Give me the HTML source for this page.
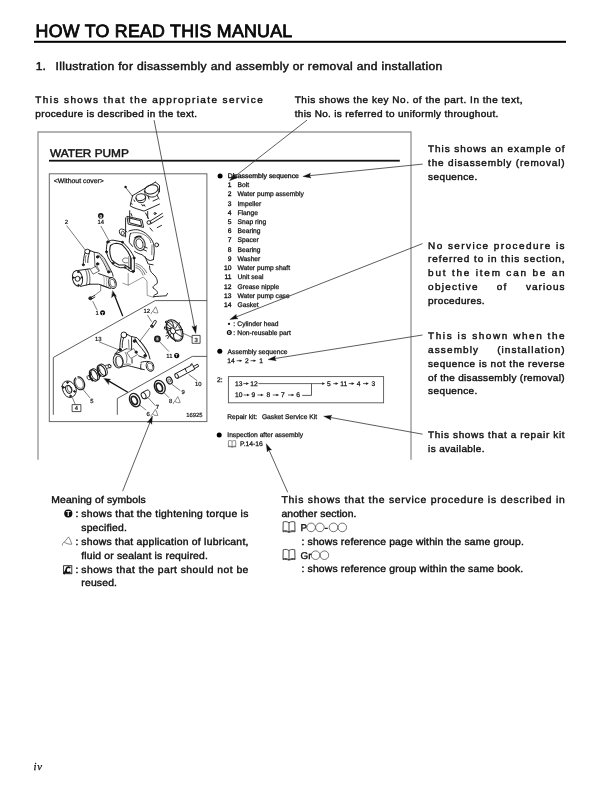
<!DOCTYPE html>
<html><head><meta charset="utf-8"><title>How to read this manual</title>
<style>
html,body{margin:0;padding:0;background:#fff;}
body{width:612px;height:792px;overflow:hidden;}
svg{display:block;}
text{font-family:"Liberation Sans",sans-serif;fill:#111;text-rendering:geometricPrecision;}
.b{stroke:#111;stroke-width:0.4px;}
.h{stroke:#111;stroke-width:0.32px;}
.s{stroke:#111;stroke-width:0.25px;}
.wp{stroke:#111;stroke-width:0.45px;}
.t{stroke:#000;stroke-width:0.8px;}
svg{will-change:transform;}
</style></head><body>
<svg width="612" height="792" viewBox="0 0 612 792">
<rect width="612" height="792" fill="#fff"/>
<g id="drawing" fill="none" stroke="#1c1c1c" stroke-width="0.95" stroke-linejoin="round" stroke-linecap="round">
<!-- section dividers -->
<path d="M206.8,300.6 L155.2,300.6 L53.3,357.5 L53.3,414.4" stroke="#333" stroke-width="0.8"/>
<path d="M206.8,356.4 L192.3,356.4 L117.3,398.5 L117.3,414.4" stroke="#333" stroke-width="0.8"/>

<!-- ===== engine head ===== -->
<circle cx="125.6" cy="187" r="1.2" fill="#111" stroke="none"/>
<path d="M126.2,188.2 L132.6,196.4" stroke-width="0.7"/>
<path d="M132.6,195.6 L155.4,182.1 M155.4,182.1 L159.5,185.5 L159.5,191.9 M132.6,195.6 L130.1,205.8 C132,207 134,208 136.2,208.6 L144,211.1 L159.5,204.1"/>
<ellipse cx="151.4" cy="189.4" rx="6.7" ry="4.5" transform="rotate(-12 151.4 189.4)"/>
<path d="M144.3,191 C144.6,195.5 149,197.4 153,197 C156.8,196.5 159.4,194 158.8,189"/>
<path d="M148,195.5 L149,199 M157,195 L159,199"/>
<ellipse cx="140.7" cy="197.2" rx="4.8" ry="3.4" transform="rotate(-10 140.7 197.2)"/>
<path d="M135.9,198 C136.1,201.8 139.3,203 142,202.6 C144.5,202.2 145.9,200.7 145.6,196.8"/>
<path d="M141.8,204.5 l1,1.6 l1.2,-1.5 l1,1.6 M134,200 l0.8,1.5 M131,203.5 l1.2,0.6 M153,201 l4.5,-2"/>
<!-- engine block middle -->
<path d="M125.6,218 L125.6,237 M129.7,210.7 L129.7,220.5"/>
<path d="M127.3,216.4 L142,219.7 L143.6,227.4 L128.6,224.2 Z M129.2,218 L140.5,220.7 L141.6,226 L130.2,223 Z"/>
<path d="M132,216 L131,213.5 M147.7,211.5 L147.7,218 M145.5,213 L148.5,218.5"/>
<circle cx="148.9" cy="222.5" r="1.9"/>
<path d="M150.3,221 L162.4,213.4 M150.8,223.8 L163,216.4"/>
<circle cx="155" cy="213.5" r="1"/>
<path d="M157.3,227.6 L161.5,225.4 M150,228 l2.5,3"/>
<!-- front cover -->
<path d="M125.6,236 C123,236.5 120.5,235.5 119.6,233 C118.8,230.5 119.8,229 121.5,229 C123.5,229 125.5,230.5 126.8,232"/>
<ellipse cx="122.8" cy="233.2" rx="1.6" ry="2" stroke-width="0.7"/>
<path d="M128.9,231 C132,229.8 135,229.5 137.9,229.8 C141.5,230.5 145,232.5 147.7,235.1 C150.5,237.8 152.5,240.5 153.4,243.2 C154.2,246.5 154.4,250 154.2,253 L153.4,259.6"/>
<path d="M130.5,233.4 C136,231.5 143,233 147.5,237 C149.5,239 150.5,240.5 150.8,242.6 M152,245 L151.8,254.7" stroke-width="0.6"/>
<path d="M130.5,233.4 C129.5,236 129.2,239.5 129.3,242.4 L132.6,246.5"/>
<ellipse cx="139.5" cy="243.7" rx="5.4" ry="7" transform="rotate(-18 139.5 243.7)" stroke-width="1.3" stroke="#555"/>
<ellipse cx="139.5" cy="243.7" rx="3.4" ry="5" transform="rotate(-18 139.5 243.7)" stroke-width="0.8"/>
<path d="M134.8,237.8 C136.5,236 139,235.8 141,236.4" stroke-width="1.2"/>
<path d="M144,246.5 L147.2,248 M143.2,249.5 L146.5,251"/>
<circle cx="156.7" cy="244.9" r="1.9"/>
<path d="M134.6,251.4 C137,253 139.5,254 142,254.7 C143.5,256 145,257 146,258 C147,259 148.5,260.5 150.5,260.5 L153.4,259.6"/>
<path d="M145,256.6 L148.2,264 L153.1,264.8 M149.5,266 C149.5,269.5 150.5,272 153,274 C156,276.5 158,280 157.2,283.5 C155,285 152.5,286 153,288 C155.5,289.5 158,291.5 157.5,293.5 C155.5,294.5 153.2,295.4 153.3,296.6 C157,296.5 161.5,296 166.2,295.8 L167.5,293.5"/>
<path d="M136,265.6 C139.5,266.5 143,269.5 145,274.6 M136,267.6 C139,268.5 141.5,271 143,275 M136,263.6 C140,264.3 144.5,268 146.6,272.8" stroke-width="0.6"/>
<path d="M128.2,273.4 L128.2,285.2 L143.3,277 L147,281.1 L147.2,295.4 L154,297.5 M128.2,285.2 L122.9,283.2" stroke-width="0.6" stroke="#555"/>
<!-- gasket -->
<path d="M107.5,241.9 C109.5,240.6 111.3,240.1 113.1,240.2 L122.2,241.9 C124.8,244 127.2,246.5 129.4,249.4 C131.3,252 133,254.8 134.3,257.5 L134.3,271.6 L130.7,271.6 C128.8,270.2 126.8,268.6 124.8,267.7 L120.3,267.7 C116.5,266.8 113.8,265.3 111.8,263.1 C109,259.8 107.3,256 106.5,252 C106.2,248.5 106.6,245 107.5,241.9 Z" stroke-width="1"/>
<path d="M110.5,245.5 C112.3,244 114.2,243.3 116.3,243.2 C118.3,243.2 120.3,243.8 122.2,244.8 C124.5,247 126.5,249.4 128.1,252 L130.7,257.2 L130.7,269 C128.8,267.4 126.8,265.8 124.8,265 L119,265 C116.2,263.6 113.8,262 111.8,259.8 C110.6,257.2 109.9,254.3 109.8,251.3 C109.7,249.3 109.9,247.3 110.5,245.5 Z" stroke-width="1.1"/>
<circle cx="107.8" cy="242" r="1.1" fill="#111"/><circle cx="122.5" cy="242.2" r="0.9" fill="#111"/>
<circle cx="106.5" cy="251.8" r="1" fill="#111"/><circle cx="134" cy="258" r="1" fill="#111"/>
<circle cx="133.2" cy="271.4" r="1.1" fill="#111"/><circle cx="113" cy="263.3" r="0.9" fill="#111"/><circle cx="125" cy="267.4" r="0.8" fill="#111"/>
<path d="M128.8,256.6 L128.8,270.3 M131.5,258.5 L131.5,270" stroke-width="0.6"/>
<path d="M127.5,258.2 C125,257.5 122.5,258.2 122.4,260.3 C122.4,262.3 124.8,263.2 127.5,262.8" stroke-width="0.6"/>
<!-- ===== pump ===== -->
<path d="M66.8,225.8 L85.2,249.9" stroke="#333" stroke-width="0.65"/>
<path d="M101,226.3 L110,242.5" stroke="#333" stroke-width="0.65"/>
<ellipse cx="87.3" cy="251.5" rx="2.6" ry="2.3"/>
<path d="M85,252.8 C84,256 83.2,260.5 83.3,264.6 M89.2,253.5 C88.2,256.5 87.6,260 87.8,262.5" />
<path d="M86,255.5 C85.2,258 85,260.5 85.6,262.3" stroke-width="0.6"/>
<path d="M89.6,250.3 L94.2,252.2 L98.6,253 C101,254.6 103.3,256.8 105.1,259.5 L112.4,273.3 L113.1,276.2"/>
<path d="M98.6,255.1 C101.5,258.5 105.5,265.5 108.1,272.6" stroke-width="0.8"/>
<path d="M100,254.6 C102.5,258 106.5,265 109.5,272.4 M101.5,254.3 C104,257.8 108,265 111,272.8" stroke-width="0.45" stroke="#777"/>
<path d="M94.2,252.2 L95,266 M95,266 L98.6,270.5" stroke-width="0.7"/>
<circle cx="97.6" cy="256.9" r="1.2" fill="#1c1c1c"/>
<circle cx="97.6" cy="263.9" r="1.2" fill="#1c1c1c"/>
<circle cx="108.8" cy="271.9" r="1.1" fill="#1c1c1c"/>
<circle cx="83.3" cy="264.8" r="1" fill="#1c1c1c"/>
<path d="M90.5,269.2 L96.8,265.8 L99.5,271 L93.3,274 Z" stroke-width="0.6"/>
<!-- hub -->
<ellipse cx="77.5" cy="278.4" rx="5" ry="7.9" transform="rotate(-12 77.5 278.4)"/>
<circle cx="77.6" cy="278.8" r="2.5"/>
<circle cx="78.2" cy="272" r="0.7" fill="#222"/><circle cx="73.6" cy="277.6" r="0.7" fill="#222"/><circle cx="78.4" cy="285.2" r="0.7" fill="#222"/><circle cx="81.8" cy="277.4" r="0.7" fill="#222"/>
<path d="M77.8,270.5 L89.9,268.8 M80.4,286.4 L89.9,284.2"/>
<path d="M87.5,269.2 C90,272.5 90.5,280 89.4,284.3 M85.5,269.6 C87.6,273 87.8,280.5 86.4,285" stroke-width="0.7"/>
<path d="M89.9,284.2 L98.6,284.2 L108.8,287.8"/>
<!-- outlet -->
<ellipse cx="112.4" cy="283" rx="3.7" ry="5.6" transform="rotate(-18 112.4 283)"/>
<ellipse cx="112.6" cy="283.1" rx="2.5" ry="4.1" transform="rotate(-18 112.6 283.1)" stroke-width="0.6"/>
<path d="M98.6,273.6 L110.5,277.7 M100.5,285 L110.5,288.6"/>
<path d="M103.5,275.5 C104.5,278.5 104.5,283 103.8,286 M106,276.4 C107,279.5 107,283.5 106.3,287 M108,277 C109,280 109,284 108.3,287.8" stroke-width="0.5" stroke="#666"/>
<path d="M100.7,286.5 L100.7,290.8 L95,295" stroke-width="0.55"/>
<!-- bolt 1 -->
<circle cx="90.3" cy="298.3" r="1.5" fill="#333"/>
<path d="M91.3,297.2 L94.6,295.4 M91.6,299 L94.9,297.1"/>
<path d="M92.8,301.5 L96.8,309.6" stroke="#333" stroke-width="0.65"/>
<!-- thick arrow 1 -->
<path d="M122.6,315.7 L114.2,294.6" stroke="#111" stroke-width="1.3"/>
<path d="M112.8,290.9 L116.4,296.4 L114.2,295.2 L111.7,297.4 Z" fill="#111" stroke="#111" stroke-width="0.4"/>

<!-- ===== lower section ===== -->
<!-- grease nipple -->
<path d="M150.8,326.2 L154.2,320.8 C155.3,319.8 156.8,320.6 156.3,322 L153,327.3 C152.2,328.3 150.5,327.6 150.8,326.2 Z"/>
<path d="M151.5,325.5 L153.2,326.5" stroke-width="1.6"/>
<path d="M147.6,315.2 L151.4,321.4" stroke="#333" stroke-width="0.65"/>
<path d="M149.6,328.2 L139.8,341.2" stroke="#333" stroke-width="0.65"/>
<!-- 13 leader -->
<path d="M99.5,342 L119.7,350.2" stroke="#333" stroke-width="0.65"/>
<!-- case -->
<circle cx="123.9" cy="334.9" r="2.9"/>
<path d="M126.7,334.1 L130.4,336.2 L137,337.8 L139.4,340.3 C143,344 146.5,349 148.4,353.3 L150,359"/>
<path d="M137,342.7 C140,346 143.5,350.5 146,354.1 M135,338.6 L137,342.7"/>
<path d="M121.4,336.2 C120.4,340 120,344 119.8,348.4 L114.9,354.1"/>
<path d="M123.6,337.9 C122.5,340.5 122,344 122.3,347.5 M114.9,354.1 L120.6,351.7 L126.3,348.8 M131.6,337.5 L131.6,349.2"/>
<circle cx="134.5" cy="341.1" r="1.3" fill="#1c1c1c"/><circle cx="145.1" cy="355.8" r="1.3" fill="#1c1c1c"/><circle cx="120.2" cy="349.7" r="1.3" fill="#1c1c1c"/><circle cx="136.1" cy="352.1" r="1.1" fill="#1c1c1c"/>
<path d="M127.2,352.5 L133.6,348.6 L137.5,354.5 L131.2,358.3 Z" stroke-width="0.6"/>
<path d="M138.6,339.6 C142,343.5 145.5,348.5 148,353.2" stroke-width="0.6"/>
<path d="M116.6,357 C115.8,359.5 116,363 117.4,365.5 M125.3,352.5 C127,355 127.5,359 126.5,362.5 M124,364.5 C126,364 128,363.6 130.4,364.4" stroke-width="0.6"/>
<path d="M128.5,340 L129,347.5 M126.3,348.8 L131.6,349.2" stroke-width="0.6"/>
<ellipse cx="118.2" cy="361.1" rx="4.9" ry="6.9" transform="rotate(-12 118.2 361.1)"/>
<ellipse cx="119" cy="361.5" rx="3.7" ry="5.5" transform="rotate(-12 119 361.5)" stroke-width="0.7"/>
<path d="M120.6,367.2 L128,365.6 L131.2,366.4 L144.3,369.7 M138.6,355.8 L145.1,358.2 M132,359 L132,363.1"/>
<ellipse cx="150" cy="366.4" rx="3.7" ry="4.9" transform="rotate(-20 150 366.4)"/>
<ellipse cx="150.2" cy="366.5" rx="2.6" ry="3.7" transform="rotate(-20 150.2 366.5)" stroke-width="0.55"/>
<path d="M141,362.3 C143.5,361.5 146,361.2 148.4,361.5 M141,364 C140.5,366 140.5,368 141,369.5"/>
<!-- impeller -->
<ellipse cx="174.6" cy="330.4" rx="7" ry="11.6" transform="rotate(-30 174.6 330.4)" stroke-width="1.2"/>
<ellipse cx="174.3" cy="330.6" rx="5.9" ry="10.4" transform="rotate(-30 174.3 330.6)" stroke-width="0.5"/>
<ellipse cx="172.8" cy="330.8" rx="2.4" ry="3.2" transform="rotate(-30 172.8 330.8)" stroke-width="0.9"/>
<path d="M171.5,328 C169,326 167,323.5 165,322 L166.2,321 C168.5,322.5 171,323.5 173,326.5" stroke-width="1"/>
<path d="M174,327.5 C173.5,325 172.8,322.5 171,320.5 M175.5,328.2 C177,325.5 178.5,323.5 179.8,322.6" stroke-width="1"/>
<path d="M170.6,331 C168,330 166,329.3 164.4,328.7 L164.6,326.8 C166.8,327.5 169,328.2 171,329" stroke-width="1"/>
<path d="M171.3,333.4 C169.5,335 168.5,336.5 167.8,338.4 M173.5,334.2 C173.5,337 174,339.5 175.5,341.5 M175.5,332.5 C177.5,334 179.5,335.5 181.5,336.5 M176,330.5 C178.5,330 180.5,329.5 182.5,329.5" stroke-width="1"/>
<path d="M166.5,333 L168.6,332.2 M165.8,336 L167.7,335.4" stroke-width="0.9"/>
<path d="M182.8,333.2 L192.2,337.4" stroke="#333" stroke-width="0.65"/>
<rect x="192.5" y="335.4" width="7.6" height="7.9" stroke="#222" stroke-width="0.8"/>
<!-- unit seal -->
<circle cx="157.4" cy="338.9" r="2.5" stroke-width="1.8"/>
<circle cx="157.4" cy="338.9" r="1.1" stroke-width="0.6"/>
<path d="M159.8,341.9 L168.6,351.2" stroke="#333" stroke-width="0.65"/>
<!-- 1 T circle -->
<!-- shaft assembly -->
<ellipse cx="88.7" cy="377.7" rx="1.5" ry="2.2" transform="rotate(-25 88.7 377.7)" stroke-width="0.8"/>
<path d="M88.9,375.5 L91.8,374.3 M89.9,379.6 L92.8,378.7" stroke-width="0.8"/>
<ellipse cx="95.3" cy="374.4" rx="3.6" ry="6.2" transform="rotate(-28 95.3 374.4)" stroke-width="0.9"/>
<ellipse cx="93.6" cy="375.4" rx="3.6" ry="6.2" transform="rotate(-28 93.6 375.4)" stroke-width="1.1"/>
<path d="M90.2,372.5 C89.6,375.5 90.4,378.8 92.4,380.6" stroke-width="1.8"/>
<path d="M98.2,371.8 L100.2,370.3 M99.5,376.2 L101,375.2" stroke-width="0.9"/>
<ellipse cx="103.1" cy="369.8" rx="3.6" ry="6.2" transform="rotate(-28 103.1 369.8)" stroke-width="0.9"/>
<ellipse cx="101.4" cy="370.8" rx="3.6" ry="6.2" transform="rotate(-28 101.4 370.8)" stroke-width="1.1"/>
<path d="M98,367.9 C97.4,370.9 98.2,374.2 100.2,376" stroke-width="1.8"/>
<path d="M105.6,365.4 L109.5,364.7 M106.6,368.6 L109.8,367.4" stroke-width="0.8"/>
<ellipse cx="109.6" cy="366.1" rx="1.3" ry="2" transform="rotate(-25 109.6 366.1)" stroke-width="0.8"/>
<!-- big arrow 2 -->
<path d="M127.4,392 L107.6,380.4" stroke="#111" stroke-width="1.3"/>
<path d="M104.1,378.4 L110.6,379.3 L108.6,380.6 L108.7,384.2 Z" fill="#111" stroke="#111" stroke-width="0.4"/>
<!-- flange 4 -->
<path d="M62.1,386.5 C62.5,384 63.5,382.3 65.2,381.5 C67.5,380.5 70.5,381 72.5,383 C74.8,385.2 76.3,387.8 76.3,390.2 C76.3,392.5 75.2,394.8 73.4,396.4 C71.5,397.8 68.8,397.8 66.8,396.5 C64.4,394.8 62.4,391.2 62.1,386.5 Z" stroke-width="1"/>
<ellipse cx="68.6" cy="389.4" rx="2.7" ry="4.2" transform="rotate(-25 68.6 389.4)" stroke-width="0.9"/>
<ellipse cx="69.6" cy="388.8" rx="2.2" ry="3.6" transform="rotate(-25 69.6 388.8)" stroke-width="0.6"/>
<circle cx="67.5" cy="382.6" r="0.8" fill="#222"/><circle cx="63.6" cy="387.4" r="0.8" fill="#222"/><circle cx="74.4" cy="391.4" r="0.8" fill="#222"/><circle cx="70.5" cy="396" r="0.8" fill="#222"/>
<path d="M72.6,398.2 L75.1,404.1" stroke="#333" stroke-width="0.65"/>
<rect x="72.5" y="404.6" width="8.4" height="7" stroke="#222" stroke-width="0.8"/>
<!-- snap ring 5 -->
<g transform="rotate(-25 79.5 383.3)"><path d="M78.2,376.8 C75.8,377.6 74.6,380.6 74.7,383.6 C74.8,387.3 76.9,390 79.5,390 C82.3,390 84.3,386.8 84.2,383.2 C84.1,380 82.8,377.5 80.8,376.8" stroke-width="1.2"/><path d="M78.5,378 C76.6,378.8 75.9,381 76,383.4 C76.1,386.2 77.6,388.6 79.5,388.6 C81.5,388.6 82.9,386.2 82.9,383.2 C82.8,380.8 81.9,378.8 80.5,378" stroke-width="0.5"/></g>
<path d="M83.4,389.9 L89.8,397.7" stroke="#333" stroke-width="0.65"/>
<!-- shaft 10 -->
<path d="M177.6,378.3 L192.8,370.2 M175.6,373.6 L190.8,365.6"/>
<ellipse cx="176.6" cy="376" rx="1.5" ry="2.5" transform="rotate(-28 176.6 376)"/>
<path d="M190.5,365.2 L192.5,364.5 L194.8,369.2 L193,370.2 M193.2,366.6 L197.2,364.4 M194.2,368.8 L198.2,366.6 M197.2,364.4 C198.5,364 199,365.8 198.2,366.6"/>
<path d="M191,364.2 l1,-0.6 M185,368.5 L186.6,372"/>
<path d="M189,374.6 L196.9,380.5" stroke="#333" stroke-width="0.65"/>
<!-- washer 9 -->
<ellipse cx="169.4" cy="380.5" rx="2.6" ry="3.6" transform="rotate(-25 169.4 380.5)" stroke-width="1.2"/>
<ellipse cx="169.4" cy="380.5" rx="1.1" ry="1.7" transform="rotate(-25 169.4 380.5)" stroke-width="0.5"/>
<path d="M172,384.4 L179.9,390.3" stroke="#333" stroke-width="0.65"/>
<!-- bearing 8 -->
<ellipse cx="159.8" cy="387" rx="5.1" ry="7" transform="rotate(-25 159.8 387)" stroke-width="1.3"/>
<ellipse cx="159.3" cy="387.3" rx="2.9" ry="4.4" transform="rotate(-25 159.3 387.3)" stroke-width="1.8"/>
<path d="M163.6,392.3 L168.8,397.5" stroke="#333" stroke-width="0.65"/>
<!-- spacer 7 -->
<ellipse cx="143.6" cy="395.6" rx="2.2" ry="3.3" transform="rotate(-25 143.6 395.6)"/>
<path d="M142.3,392.5 L147,390.1 C149.5,389.5 150.5,392.5 149.5,395.5 C148.8,397.3 147.6,397.8 146,398.6 L145,398.8"/>
<path d="M147.9,397.5 L155.1,405.3" stroke="#333" stroke-width="0.65"/>
<!-- bearing 6 -->
<ellipse cx="134.8" cy="400.1" rx="5" ry="7" transform="rotate(-25 134.8 400.1)" stroke-width="1.3"/>
<ellipse cx="134.3" cy="400.4" rx="2.8" ry="4.3" transform="rotate(-25 134.3 400.4)" stroke-width="1.8"/>
<path d="M140,405.3 L145.9,409.9" stroke="#333" stroke-width="0.65"/>
</g>
<g font-family="Liberation Sans" font-size="5.9" fill="#111" style="stroke:#111;stroke-width:0.2px">
<text x="64.7" y="223.9">2</text>
<text x="97.4" y="223.9">14</text>
<text x="95.6" y="314.7">1</text>
<text x="143.5" y="313">12</text>
<text x="94.9" y="340.5">13</text>
<text x="194.4" y="341.6">3</text>
<text x="166.3" y="358">11</text>
<text x="74.8" y="410.4">4</text>
<text x="90.2" y="402.6">5</text>
<text x="194.9" y="386.4">10</text>
<text x="181.4" y="393.9">9</text>
<text x="168.9" y="402.7">8</text>
<text x="155.7" y="408.7">7</text>
<text x="146.6" y="415.6">6</text>
<text x="186.3" y="416.7" textLength="16.3" lengthAdjust="spacingAndGlyphs">16925</text>
</g>
<circle cx="100.8" cy="215.8" r="2.8" fill="#111"/>
<circle cx="102.6" cy="312.8" r="2.5" fill="#111"/>
<circle cx="176.7" cy="355.6" r="2.6" fill="#111"/>
<g font-family="Liberation Sans" font-weight="bold" style="fill:#fff;stroke:none">
<text x="100.8" y="217.6" font-size="4.6" text-anchor="middle" style="fill:#fff">0</text>
<text x="102.6" y="314.5" font-size="4.4" text-anchor="middle" style="fill:#fff">T</text>
<text x="176.7" y="357.3" font-size="4.4" text-anchor="middle" style="fill:#fff">T</text>
</g>
<g fill="none" stroke="#555" stroke-width="0.7">
<path d="M152.6,311.6 L155.6,306.8 C156.4,308.3 157.4,310.6 158,312.8 C156.2,313.2 154.2,312.6 152.6,311.6 Z M152.6,311.6 C151.6,312 151,313 151.2,314.2"/>
<path d="M174.8,401.4 L177.8,396.6 C178.6,398.1 179.6,400.4 180.2,402.6 C178.4,403 176.4,402.4 174.8,401.4 Z M174.8,401.4 C173.8,401.8 173.2,402.8 173.4,404"/>
<path d="M152.4,414.2 L155.4,409.4 C156.2,410.9 157.2,413.2 157.8,415.4 C156,415.8 154,415.2 152.4,414.2 Z M152.4,414.2 C151.4,414.6 150.8,415.6 151,416.8"/>
</g>

<text x="35.6" y="36.6" font-size="17.8" textLength="256.60" lengthAdjust="spacing" class="t" >HOW TO READ THIS MANUAL</text>
<rect x="34.0" y="40.8" width="532.0" height="2.0" stroke="#000" stroke-width="0" fill="#000"/>
<text transform="translate(35.7,69.8) scale(1.07,1)" font-size="11.3" class="wp" >1.</text>
<text transform="translate(55.6,69.8) scale(1.07,1)" font-size="11.3" textLength="361.31" lengthAdjust="spacing" class="wp" >Illustration for disassembly and assembly or removal and installation</text>
<text transform="translate(35.3,103.1) scale(1.05,1)" font-size="9.5" textLength="216.57" lengthAdjust="spacing" class="b" >This shows that the appropriate service</text>
<text transform="translate(35.3,117.4) scale(1.05,1)" font-size="9.5" textLength="154.10" lengthAdjust="spacing" class="b" >procedure is described in the text.</text>
<text transform="translate(294.7,103.1) scale(1.05,1)" font-size="9.5" textLength="216.95" lengthAdjust="spacing" class="b" >This shows the key No. of the part. In the text,</text>
<text transform="translate(294.7,117.4) scale(1.05,1)" font-size="9.5" textLength="193.90" lengthAdjust="spacing" class="b" >this No. is referred to uniformly throughout.</text>
<text transform="translate(428.1,152.2) scale(1.05,1)" font-size="9.5" textLength="130.00" lengthAdjust="spacing" class="b" >This shows an example of</text>
<text transform="translate(428.1,165.7) scale(1.05,1)" font-size="9.5" textLength="130.00" lengthAdjust="spacing" class="b" >the disassembly (removal)</text>
<text transform="translate(428.1,179.7) scale(1.05,1)" font-size="9.5" textLength="46.89" lengthAdjust="spacing" class="b" >sequence.</text>
<text transform="translate(428.1,248.7) scale(1.05,1)" font-size="9.5" textLength="130.00" lengthAdjust="spacing" class="b" >No service procedure is</text>
<text transform="translate(428.1,261.9) scale(1.05,1)" font-size="9.5" textLength="130.00" lengthAdjust="spacing" class="b" >referred to in this section,</text>
<text transform="translate(428.1,276.1) scale(1.05,1)" font-size="9.5" textLength="130.00" lengthAdjust="spacing" class="b" >but the item can be an</text>
<text transform="translate(428.1,289.8) scale(1.05,1)" font-size="9.5" textLength="47.14" lengthAdjust="spacing" class="b" >objective</text>
<text transform="translate(496.7,289.8) scale(1.05,1)" font-size="9.5" textLength="9.14" lengthAdjust="spacing" class="b" >of</text>
<text transform="translate(525.9,289.8) scale(1.05,1)" font-size="9.5" textLength="36.86" lengthAdjust="spacing" class="b" >various</text>
<text transform="translate(428.1,303.6) scale(1.05,1)" font-size="9.5" textLength="53.81" lengthAdjust="spacing" class="b" >procedures.</text>
<text transform="translate(428.1,339.2) scale(1.05,1)" font-size="9.5" textLength="130.00" lengthAdjust="spacing" class="b" >This is shown when the</text>
<text transform="translate(428.1,352.7) scale(1.05,1)" font-size="9.5" textLength="47.62" lengthAdjust="spacing" class="b" >assembly</text>
<text transform="translate(497.2,352.7) scale(1.05,1)" font-size="9.5" textLength="64.19" lengthAdjust="spacing" class="b" >(installation)</text>
<text transform="translate(428.1,366.7) scale(1.05,1)" font-size="9.5" textLength="130.00" lengthAdjust="spacing" class="b" >sequence is not the reverse</text>
<text transform="translate(428.1,380.6) scale(1.05,1)" font-size="9.5" textLength="130.00" lengthAdjust="spacing" class="b" >of the disassembly (removal)</text>
<text transform="translate(428.1,394.4) scale(1.05,1)" font-size="9.5" textLength="46.89" lengthAdjust="spacing" class="b" >sequence.</text>
<text transform="translate(428.1,437.9) scale(1.05,1)" font-size="9.5" textLength="130.00" lengthAdjust="spacing" class="b" >This shows that a repair kit</text>
<text transform="translate(428.1,451.9) scale(1.05,1)" font-size="9.5" textLength="53.73" lengthAdjust="spacing" class="b" >is available.</text>
<text transform="translate(51.2,503.3) scale(1.05,1)" font-size="9.9" textLength="90.10" lengthAdjust="spacing" class="b" >Meaning of symbols</text>
<text transform="translate(81.3,517.0) scale(1.05,1)" font-size="9.9" textLength="159.14" lengthAdjust="spacing" class="b" >shows that the tightening torque is</text>
<text transform="translate(75.5,517.0) scale(1.05,1)" font-size="9.9" class="b" >:</text>
<text transform="translate(81.3,530.7) scale(1.05,1)" font-size="9.9" textLength="43.32" lengthAdjust="spacing" class="b" >specified.</text>
<text transform="translate(81.3,544.9) scale(1.05,1)" font-size="9.9" textLength="159.14" lengthAdjust="spacing" class="b" >shows that application of lubricant,</text>
<text transform="translate(75.5,544.9) scale(1.05,1)" font-size="9.9" class="b" >:</text>
<text transform="translate(81.3,558.6) scale(1.05,1)" font-size="9.9" textLength="120.56" lengthAdjust="spacing" class="b" >fluid or sealant is required.</text>
<text transform="translate(81.3,572.7) scale(1.05,1)" font-size="9.9" textLength="159.14" lengthAdjust="spacing" class="b" >shows that the part should not be</text>
<text transform="translate(75.5,572.7) scale(1.05,1)" font-size="9.9" class="b" >:</text>
<text transform="translate(81.3,586.4) scale(1.05,1)" font-size="9.9" textLength="34.00" lengthAdjust="spacing" class="b" >reused.</text>
<circle cx="68.3" cy="513.5" r="4.1" fill="#111"/>
<text x="68.3" y="516.3" font-size="7.4" font-weight="bold" style="fill:#fff" text-anchor="middle">T</text>
<path d="M64.2,542.2 L68.6,536.9 C69.6,538.5 71,541.5 71.9,544.2 C69.5,544.6 66.5,543.6 64.2,542.2 Z M64.2,542.2 C63,542.6 62.2,543.8 62.4,545.6" stroke="#777" stroke-width="0.9" fill="none"/>
<rect x="63.6" y="565.7" width="8.2" height="8" fill="#fff" stroke="#222" stroke-width="0.9"/>
<path d="M70.4,567.8 C69,567.1 67.2,567.1 66.5,568.4 C65.8,569.8 65.9,571.4 66.6,572.3 C67.7,572.8 69.3,572.6 70.4,572" stroke="#111" stroke-width="1.7" fill="none"/>
<path d="M63.8,574 L66.2,570.6" stroke="#111" stroke-width="2"/>
<text transform="translate(281.5,503.1) scale(1.05,1)" font-size="9.9" textLength="269.81" lengthAdjust="spacing" class="b" >This shows that the service procedure is described in</text>
<text transform="translate(281.5,516.9) scale(1.05,1)" font-size="9.9" textLength="71.33" lengthAdjust="spacing" class="b" >another section.</text>
<path transform="translate(282.6,521.4) scale(1)" d="M0.6,0.6 C2.6,-0.2 4.8,0.2 6.4,1.4 C8,0.2 10.2,-0.2 12.2,0.6 L12.4,9.6 C10.4,9 8.2,9.2 6.4,10.6 C4.6,9.2 2.4,9 0.4,9.6 Z M6.4,1.4 L6.4,10.6 M0.4,9.6 L0.4,10.4 C2.4,10 4.6,10.2 6.4,11 C8.2,10.2 10.4,10 12.4,10.4 L12.4,9.6" stroke="#333" stroke-width="0.9" fill="none"/>
<text x="300.6" y="530.9" font-size="9.8" class="b" >P</text>
<circle cx="311.1" cy="527.4" r="4.3" stroke="#444" stroke-width="0.75" fill="none"/>
<circle cx="319.9" cy="527.4" r="4.3" stroke="#444" stroke-width="0.75" fill="none"/>
<text transform="translate(324.6,530.7) scale(1.05,1)" font-size="9.9" class="b" >-</text>
<circle cx="333.5" cy="527.4" r="4.3" stroke="#444" stroke-width="0.75" fill="none"/>
<circle cx="342.3" cy="527.4" r="4.3" stroke="#444" stroke-width="0.75" fill="none"/>
<text transform="translate(301.5,544.9) scale(1.05,1)" font-size="9.9" textLength="211.70" lengthAdjust="spacing" class="b" >: shows reference page within the same group.</text>
<path transform="translate(282.6,549.2) scale(1)" d="M0.6,0.6 C2.6,-0.2 4.8,0.2 6.4,1.4 C8,0.2 10.2,-0.2 12.2,0.6 L12.4,9.6 C10.4,9 8.2,9.2 6.4,10.6 C4.6,9.2 2.4,9 0.4,9.6 Z M6.4,1.4 L6.4,10.6 M0.4,9.6 L0.4,10.4 C2.4,10 4.6,10.2 6.4,11 C8.2,10.2 10.4,10 12.4,10.4 L12.4,9.6" stroke="#333" stroke-width="0.9" fill="none"/>
<text x="300.6" y="559.2" font-size="9.8" class="b" >Gr</text>
<circle cx="315.6" cy="555.2" r="4.3" stroke="#444" stroke-width="0.75" fill="none"/>
<circle cx="324.4" cy="555.2" r="4.3" stroke="#444" stroke-width="0.75" fill="none"/>
<text transform="translate(301.5,572.4) scale(1.05,1)" font-size="9.9" textLength="211.16" lengthAdjust="spacing" class="b" >: shows reference group within the same book.</text>
<text x="33.4" y="769.7" font-size="10.8" style="font-family:'Liberation Serif',serif;font-style:italic;stroke:#111;stroke-width:0.25px;letter-spacing:0.9px">iv</text>
<line x1="38.0" y1="132.0" x2="411.0" y2="132.0" stroke="#9a9a9a" stroke-width="1.4" />
<line x1="38.0" y1="131.3" x2="38.0" y2="459.7" stroke="#9a9a9a" stroke-width="1.4" />
<line x1="411.0" y1="131.3" x2="411.0" y2="459.7" stroke="#9a9a9a" stroke-width="1.4" />
<text x="49.9" y="157.3" font-size="11.2" textLength="79.00" lengthAdjust="spacingAndGlyphs" class="wp" >WATER PUMP</text>
<rect x="49.0" y="159.8" width="350.8" height="1.8" stroke="#000" stroke-width="0" fill="#111"/>
<rect x="49.3" y="173.8" width="157.6" height="247.8" stroke="#666" stroke-width="1" fill="none"/>
<text x="53.8" y="182.5" font-size="6.7" textLength="50.00" lengthAdjust="spacingAndGlyphs" class="s" >&lt;Without cover&gt;</text>
<circle cx="220.1" cy="176" r="2.5" fill="#000"/>
<text x="227.7" y="177.6" font-size="6.7" textLength="71.30" lengthAdjust="spacingAndGlyphs" class="h" >Disassembly sequence</text>
<text x="231.4" y="187.0" font-size="6.7" class="h" text-anchor="end">1</text>
<text x="237.5" y="187.0" font-size="6.7" class="s" >Bolt</text>
<text x="231.4" y="196.3" font-size="6.7" class="h" text-anchor="end">2</text>
<text x="237.5" y="196.3" font-size="6.7" class="s" >Water pump assembly</text>
<text x="231.4" y="205.5" font-size="6.7" class="h" text-anchor="end">3</text>
<text x="237.5" y="205.5" font-size="6.7" class="s" >Impeller</text>
<text x="231.4" y="214.7" font-size="6.7" class="h" text-anchor="end">4</text>
<text x="237.5" y="214.7" font-size="6.7" class="s" >Flange</text>
<text x="231.4" y="223.9" font-size="6.7" class="h" text-anchor="end">5</text>
<text x="237.5" y="223.9" font-size="6.7" class="s" >Snap ring</text>
<text x="231.4" y="233.1" font-size="6.7" class="h" text-anchor="end">6</text>
<text x="237.5" y="233.1" font-size="6.7" class="s" >Bearing</text>
<text x="231.4" y="242.3" font-size="6.7" class="h" text-anchor="end">7</text>
<text x="237.5" y="242.3" font-size="6.7" class="s" >Spacer</text>
<text x="231.4" y="251.6" font-size="6.7" class="h" text-anchor="end">8</text>
<text x="237.5" y="251.6" font-size="6.7" class="s" >Bearing</text>
<text x="231.4" y="260.7" font-size="6.7" class="h" text-anchor="end">9</text>
<text x="237.5" y="260.7" font-size="6.7" class="s" >Washer</text>
<text x="231.4" y="270.0" font-size="6.7" class="h" text-anchor="end">10</text>
<text x="237.5" y="270.0" font-size="6.7" class="s" >Water pump shaft</text>
<text x="231.4" y="279.3" font-size="6.7" class="h" text-anchor="end">11</text>
<text x="237.5" y="279.3" font-size="6.7" class="s" >Unit seal</text>
<text x="231.4" y="288.5" font-size="6.7" class="h" text-anchor="end">12</text>
<text x="237.5" y="288.5" font-size="6.7" class="s" >Grease nipple</text>
<text x="231.4" y="297.8" font-size="6.7" class="h" text-anchor="end">13</text>
<text x="237.5" y="297.8" font-size="6.7" class="s" >Water pump case</text>
<text x="231.4" y="306.8" font-size="6.7" class="h" text-anchor="end">14</text>
<text x="237.5" y="306.8" font-size="6.7" class="s" >Gasket</text>
<circle cx="229" cy="323.9" r="1.1" fill="#111"/>
<text x="233.3" y="325.6" font-size="6.7" class="s" >:</text>
<text x="237.3" y="325.6" font-size="6.7" class="s" >Cylinder head</text>
<circle cx="229.3" cy="332.4" r="2.5" fill="#111"/>
<text x="229.3" y="334" font-size="4.4" font-weight="bold" text-anchor="middle" style="fill:#fff">0</text>
<text x="233.3" y="334.6" font-size="6.7" class="s" >:</text>
<text x="237.3" y="334.6" font-size="6.7" class="s" >Non-reusable part</text>
<circle cx="219.8" cy="351.3" r="2.5" fill="#000"/>
<text x="227.6" y="353.5" font-size="6.7" class="s" >Assembly sequence</text>
<text x="227.3" y="363.0" font-size="6.7" class="s" >14</text>
<line x1="236.7" y1="360.7" x2="240.2" y2="360.7" stroke="#222" stroke-width="0.75" />
<path d="M242.4,360.7 L239.6,359.4 L239.6,362.0 Z" fill="#222"/>
<text x="244.9" y="363.0" font-size="6.7" class="s" >2</text>
<line x1="250.6" y1="360.7" x2="254.1" y2="360.7" stroke="#222" stroke-width="0.75" />
<path d="M256.3,360.7 L253.5,359.4 L253.5,362.0 Z" fill="#222"/>
<text x="259.2" y="363.0" font-size="6.7" class="s" >1</text>
<text x="217.1" y="381.8" font-size="6.7" class="s" >2:</text>
<rect x="228.4" y="376.6" width="155.2" height="26.2" stroke="#555" stroke-width="0.9" fill="none"/>
<text x="235.1" y="386.2" font-size="6.7" class="s" >13</text>
<line x1="243.2" y1="383.6" x2="246.8" y2="383.6" stroke="#222" stroke-width="0.75" />
<path d="M249.0,383.6 L246.2,382.3 L246.2,384.9 Z" fill="#222"/>
<text x="250.2" y="386.2" font-size="6.7" class="s" >12</text>
<line x1="258.4" y1="383.6" x2="322.5" y2="383.6" stroke="#333" stroke-width="0.75" />
<path d="M325,383.6 L322.2,382.3 L322.2,384.90000000000003 Z" fill="#222"/>
<text x="327.0" y="386.2" font-size="6.7" class="s" >5</text>
<line x1="333.3" y1="383.6" x2="336.2" y2="383.6" stroke="#222" stroke-width="0.75" />
<path d="M338.4,383.6 L335.6,382.3 L335.6,384.9 Z" fill="#222"/>
<text x="340.2" y="386.2" font-size="6.7" class="s" >11</text>
<line x1="348.7" y1="383.6" x2="352.3" y2="383.6" stroke="#222" stroke-width="0.75" />
<path d="M354.5,383.6 L351.7,382.3 L351.7,384.9 Z" fill="#222"/>
<text x="356.7" y="386.2" font-size="6.7" class="s" >4</text>
<line x1="363.0" y1="383.6" x2="366.6" y2="383.6" stroke="#222" stroke-width="0.75" />
<path d="M368.8,383.6 L366.0,382.3 L366.0,384.9 Z" fill="#222"/>
<text x="371.6" y="386.2" font-size="6.7" class="s" >3</text>
<text x="235.1" y="397.3" font-size="6.7" class="s" >10</text>
<line x1="243.7" y1="395.0" x2="247.6" y2="395.0" stroke="#222" stroke-width="0.75" />
<path d="M249.8,395.0 L247.0,393.7 L247.0,396.3 Z" fill="#222"/>
<text x="251.4" y="397.3" font-size="6.7" class="s" >9</text>
<line x1="257.5" y1="395.0" x2="261.5" y2="395.0" stroke="#222" stroke-width="0.75" />
<path d="M263.7,395.0 L260.9,393.7 L260.9,396.3 Z" fill="#222"/>
<text x="266.4" y="397.3" font-size="6.7" class="s" >8</text>
<line x1="272.8" y1="395.0" x2="277.0" y2="395.0" stroke="#222" stroke-width="0.75" />
<path d="M279.2,395.0 L276.4,393.7 L276.4,396.3 Z" fill="#222"/>
<text x="281.1" y="397.3" font-size="6.7" class="s" >7</text>
<line x1="288.0" y1="395.0" x2="292.2" y2="395.0" stroke="#222" stroke-width="0.75" />
<path d="M294.4,395.0 L291.6,393.7 L291.6,396.3 Z" fill="#222"/>
<text x="296.3" y="397.3" font-size="6.7" class="s" >6</text>
<path d="M302.2,395.4 H311.5 V383.6" stroke="#333" stroke-width="0.8" fill="none"/>
<text x="227.3" y="418.6" font-size="6.7" textLength="29.80" lengthAdjust="spacingAndGlyphs" class="s" >Repair kit:</text>
<text x="261.9" y="418.6" font-size="6.7" textLength="55.20" lengthAdjust="spacingAndGlyphs" class="s" >Gasket Service Kit</text>
<circle cx="219.2" cy="434.9" r="2.5" fill="#000"/>
<text x="227.3" y="436.8" font-size="6.7" class="s" >Inspection after assembly</text>
<path transform="translate(228.1,440.4) scale(0.62)" d="M0.6,0.6 C2.6,-0.2 4.8,0.2 6.4,1.4 C8,0.2 10.2,-0.2 12.2,0.6 L12.4,9.6 C10.4,9 8.2,9.2 6.4,10.6 C4.6,9.2 2.4,9 0.4,9.6 Z M6.4,1.4 L6.4,10.6 M0.4,9.6 L0.4,10.4 C2.4,10 4.6,10.2 6.4,11 C8.2,10.2 10.4,10 12.4,10.4 L12.4,9.6" stroke="#333" stroke-width="0.9" fill="none"/>
<text x="240.0" y="446.0" font-size="6.7" textLength="22.80" lengthAdjust="spacingAndGlyphs" class="s" >P.14-16</text>
<line x1="154.1" y1="120.2" x2="194.6" y2="327.2" stroke="#333" stroke-width="0.8" />
<path d="M195.80,333.60 L191.91,326.21 L194.50,326.93 L196.62,325.29 Z" fill="#111" stroke="#111" stroke-width="0.3"/>
<line x1="307.0" y1="120.1" x2="234.6" y2="176.7" stroke="#333" stroke-width="0.8" />
<path d="M229.50,180.70 L234.32,173.88 L234.86,176.51 L237.28,177.66 Z" fill="#111" stroke="#111" stroke-width="0.3"/>
<line x1="422.7" y1="164.1" x2="309.3" y2="175.7" stroke="#333" stroke-width="0.8" />
<path d="M302.80,176.40 L310.51,173.20 L309.56,175.71 L311.00,177.97 Z" fill="#111" stroke="#111" stroke-width="0.3"/>
<line x1="422.5" y1="243.6" x2="235.8" y2="317.1" stroke="#333" stroke-width="0.8" />
<path d="M229.80,319.50 L236.36,314.34 L236.13,317.01 L238.12,318.80 Z" fill="#111" stroke="#111" stroke-width="0.3"/>
<line x1="422.5" y1="335.0" x2="274.4" y2="358.6" stroke="#333" stroke-width="0.8" />
<path d="M268.00,359.60 L275.52,355.97 L274.72,358.53 L276.28,360.71 Z" fill="#111" stroke="#111" stroke-width="0.3"/>
<line x1="422.6" y1="434.2" x2="330.0" y2="417.4" stroke="#333" stroke-width="0.8" />
<path d="M323.60,416.20 L331.90,415.27 L330.29,417.42 L331.04,419.99 Z" fill="#111" stroke="#111" stroke-width="0.3"/>
<line x1="122.6" y1="491.2" x2="150.1" y2="422.0" stroke="#333" stroke-width="0.8" />
<path d="M152.50,416.00 L151.77,424.32 L149.99,422.32 L147.31,422.55 Z" fill="#111" stroke="#111" stroke-width="0.3"/>
<line x1="287.7" y1="492.3" x2="268.8" y2="449.6" stroke="#333" stroke-width="0.8" />
<path d="M266.20,443.70 L271.63,450.05 L268.95,449.92 L267.24,451.99 Z" fill="#111" stroke="#111" stroke-width="0.3"/>
</svg>
</body></html>
